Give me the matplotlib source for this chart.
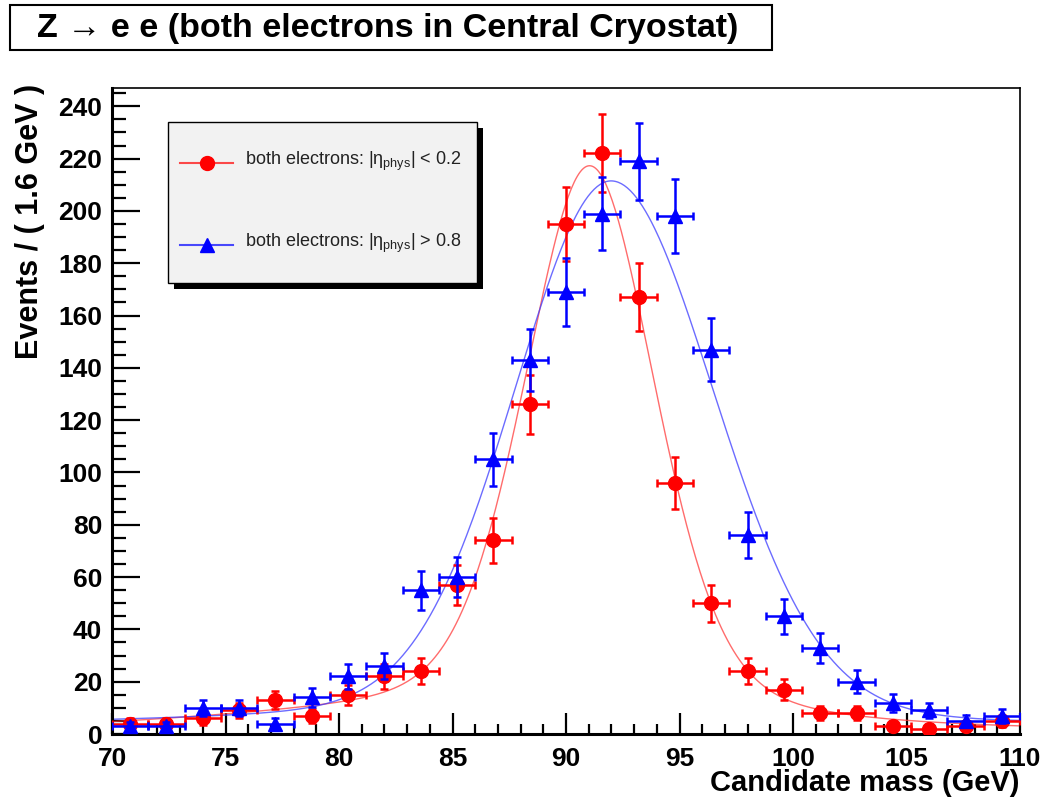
import numpy as np
import matplotlib
matplotlib.use("Agg")
import matplotlib.pyplot as plt
from matplotlib.patches import Rectangle
from matplotlib.lines import Line2D
from matplotlib.ticker import MultipleLocator

plt.rcParams['font.family'] = ['Liberation Sans', 'DejaVu Sans']
plt.rcParams['mathtext.fontset'] = 'custom'
plt.rcParams['mathtext.rm'] = 'Liberation Sans'
plt.rcParams['mathtext.it'] = 'Liberation Sans:italic'

# 1.6 GeV bins from 70 to 110
bin_centers = [70.8, 72.4, 74.0, 75.6, 77.2, 78.8, 80.4, 82.0, 83.6, 85.2, 86.8, 88.4,
               90.0, 91.6, 93.2, 94.8, 96.4, 98.0, 99.6, 101.2, 102.8, 104.4, 106.0, 107.6, 109.2]
bin_half_width = 0.8
central_counts = [4, 4, 6, 9, 13, 7, 15, 22, 24, 57, 74, 126,
                  195, 222, 167, 96, 50, 24, 17, 8, 8, 3, 2, 3, 5]
forward_counts = [3, 3, 10, 10, 4, 14, 22, 26, 55, 60, 105, 143,
                  169, 199, 219, 198, 147, 76, 45, 33, 20, 12, 9, 5, 7]

central_label = 'both electrons: |\u03b7$_{\\mathregular{phys}}$| < 0.2'
forward_label = 'both electrons: |\u03b7$_{\\mathregular{phys}}$| > 0.8'

# fitted line shapes (parameters)
central_fit = dict(mean=91.05, amp=211.8, sigma_lo=2.9, sigma_hi=2.9, gamma=3.5, frac_bw=0.3,
                   tail_amp=6.0, tail_mean=84.0, tail_sigma=10.0, const=0.8)
forward_fit = dict(mean=92.0, amp=205.8, sigma_lo=4.3, sigma_hi=4.6, gamma=5.0, frac_bw=0.1,
                   tail_amp=3.0, tail_mean=84.0, tail_sigma=10.0, const=3.5)


def line_shape(m, mean, amp, sigma_lo, sigma_hi, gamma, frac_bw, tail_amp, tail_mean, tail_sigma, const):
    d = m - mean
    sig = np.where(d < 0, sigma_lo, sigma_hi)
    gaus = np.exp(-0.5 * (d / sig) ** 2)
    bw = 1.0 / (1.0 + (d / gamma) ** 2)
    tail = tail_amp * np.exp(-0.5 * ((m - tail_mean) / tail_sigma) ** 2)
    return amp * ((1 - frac_bw) * gaus + frac_bw * bw) + tail + const


W, H = 1049, 800
fig = plt.figure(figsize=(W / 100, H / 100), dpi=100)
ax = fig.add_axes([112 / W, 1 - 734 / H, 908 / W, 646 / H])

mass = np.linspace(70, 110, 600)
ax.plot(mass, line_shape(mass, **central_fit), color='#ff3b3b', lw=1.0, alpha=0.75, zorder=2)
ax.plot(mass, line_shape(mass, **forward_fit), color='#3b3bff', lw=1.0, alpha=0.75, zorder=2)

ax.errorbar(bin_centers, central_counts, xerr=bin_half_width, yerr=np.sqrt(central_counts),
            fmt='o', color='red', ms=10, elinewidth=1.8, capsize=3, capthick=1.8, zorder=3)
ax.errorbar(bin_centers, forward_counts, xerr=bin_half_width, yerr=np.sqrt(forward_counts),
            fmt='^', color='blue', ms=10, elinewidth=1.8, capsize=3, capthick=1.8, zorder=4)

ax.set_xlim(70, 110)
ax.set_ylim(0, 247)
ax.xaxis.set_major_locator(MultipleLocator(5))
ax.xaxis.set_minor_locator(MultipleLocator(1))
ax.yaxis.set_major_locator(MultipleLocator(20))
ax.yaxis.set_minor_locator(MultipleLocator(5))
ax.tick_params(axis='both', which='both', direction='in', top=False, right=False, width=1.6)
ax.tick_params(axis='x', which='major', length=15, pad=9, labelsize=19)
ax.tick_params(axis='x', which='minor', length=7.5)
ax.tick_params(axis='y', which='major', length=20, pad=7, labelsize=19)
ax.tick_params(axis='y', which='minor', length=10)
for lab in ax.get_xticklabels() + ax.get_yticklabels():
    lab.set_fontweight('bold')
for side in ['left', 'bottom']:
    ax.spines[side].set_linewidth(2.2)
for side in ['top', 'right']:
    ax.spines[side].set_linewidth(1.2)

fig.text(1020 / W, 1 - 783 / H, 'Candidate mass (GeV)', ha='right', va='center',
         fontsize=21, fontweight='bold')
fig.text(30 / W, 1 - 84 / H, 'Events / ( 1.6 GeV )', ha='center', va='top', rotation=90,
         fontsize=22, fontweight='bold')

# title box
fig.add_artist(Rectangle((10 / W, 1 - 50 / H), 762 / W, 45 / H, transform=fig.transFigure,
                         facecolor='white', edgecolor='black', lw=1.5))
fig.text(388 / W, 1 - 29 / H, 'Z \u2192 e e (both electrons in Central Cryostat)',
         ha='center', va='center', fontsize=24.5, fontweight='bold')

# legend box with shadow
fig.add_artist(Rectangle((174 / W, 1 - 289 / H), 309 / W, 161 / H, transform=fig.transFigure,
                         facecolor='black', edgecolor='black', lw=0))
fig.add_artist(Rectangle((168 / W, 1 - 283 / H), 309 / W, 161 / H, transform=fig.transFigure,
                         facecolor='#f2f2f2', edgecolor='black', lw=1.0))
for y_px, col, mk, lab in [(163, 'red', 'o', central_label), (245, 'blue', '^', forward_label)]:
    y = 1 - y_px / H
    fig.add_artist(Line2D([180 / W, 233 / W], [y, y], transform=fig.transFigure,
                          color=col, lw=1.5, alpha=0.7))
    fig.add_artist(Line2D([207 / W], [y], transform=fig.transFigure, marker=mk,
                          color=col, ms=10, lw=0))
    fig.text(245 / W, y + 2 / H, lab, ha='left', va='center', fontsize=13, color='#222222')

fig.savefig('out.png', dpi=100)
